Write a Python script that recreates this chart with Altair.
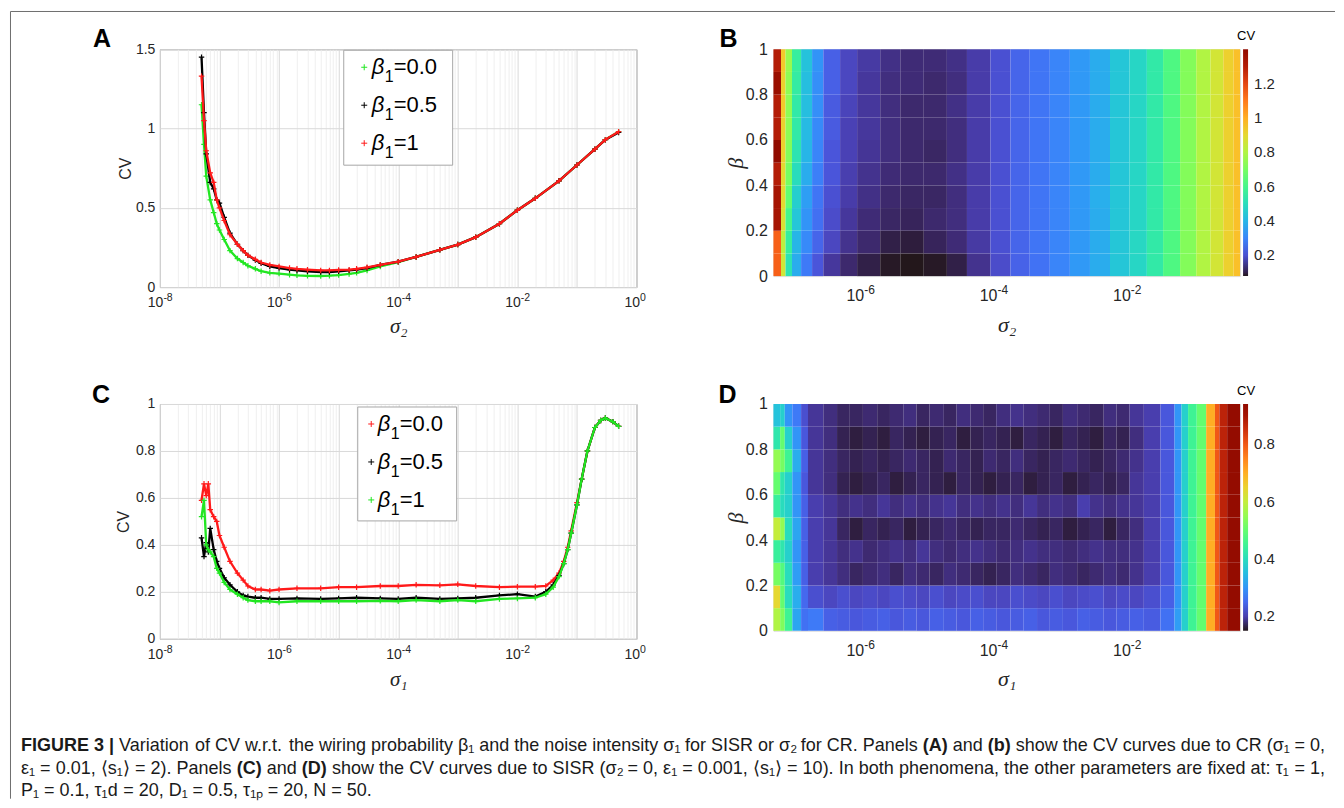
import math
import altair as alt
import pandas as pd

# ---------------- data ----------------
# Panel A (CR): CV vs sigma_2
A_sigma = [5e-8, 5.5e-8, 6e-8, 7e-8, 8e-8, 9e-8, 1e-7, 1.2e-7, 1.5e-7, 2e-7, 2.5e-7, 3e-7, 4e-7, 5e-7, 7e-7,
           1e-6, 1.5e-6, 2e-6, 3e-6, 5e-6, 7e-6, 1e-5, 1.5e-5, 2e-5, 3e-5, 5e-5, 1e-4, 2e-4, 5e-4, 1e-3,
           2e-3, 5e-3, 1e-2, 2e-2, 5e-2, 1e-1, 2e-1, 3e-1, 5e-1]
A_cv_beta00 = [1.15, 0.9, 0.7, 0.55, 0.47, 0.4, 0.36, 0.3, 0.23, 0.18, 0.155, 0.135, 0.115, 0.1, 0.09,
               0.085, 0.078, 0.074, 0.071, 0.07, 0.072, 0.076, 0.083, 0.09, 0.105, 0.13, 0.158, 0.19, 0.235, 0.268,
               0.315, 0.4, 0.485, 0.56, 0.67, 0.77, 0.87, 0.93, 0.98]
A_cv_beta05 = [1.45, 1.1, 0.84, 0.66, 0.62, 0.55, 0.53, 0.44, 0.34, 0.27, 0.23, 0.2, 0.17, 0.15, 0.13,
               0.12, 0.11, 0.105, 0.1, 0.095, 0.095, 0.1, 0.105, 0.11, 0.12, 0.14, 0.16, 0.19, 0.235, 0.268,
               0.315, 0.4, 0.485, 0.56, 0.67, 0.77, 0.87, 0.93, 0.975]
A_cv_beta10 = [1.33, 1.05, 0.86, 0.72, 0.66, 0.55, 0.5, 0.42, 0.33, 0.27, 0.23, 0.2, 0.175, 0.155, 0.14,
               0.13, 0.12, 0.115, 0.11, 0.105, 0.105, 0.108, 0.11, 0.115, 0.125, 0.14, 0.16, 0.19, 0.235, 0.268,
               0.315, 0.4, 0.485, 0.56, 0.67, 0.77, 0.87, 0.93, 0.98]

# Panel C (SISR): CV vs sigma_1
C_sigma = [5e-8, 5.5e-8, 6e-8, 6.5e-8, 7e-8, 8e-8, 9e-8, 1e-7, 1.2e-7, 1.5e-7, 2e-7, 2.5e-7, 3e-7, 4e-7, 5e-7,
           7e-7, 1e-6, 2e-6, 5e-6, 1e-5, 2e-5, 5e-5, 1e-4, 2e-4, 5e-4, 1e-3, 2e-3, 5e-3, 1e-2, 2e-2,
           3e-2, 4e-2, 5e-2, 6e-2, 7e-2, 8e-2, 1e-1, 1.2e-1, 1.5e-1, 2e-1, 2.5e-1, 3e-1, 4e-1, 5e-1]
C_cv_beta00 = [0.59, 0.66, 0.61, 0.66, 0.55, 0.52, 0.5, 0.44, 0.39, 0.33, 0.28, 0.25, 0.225, 0.21, 0.21,
               0.205, 0.21, 0.215, 0.215, 0.22, 0.22, 0.225, 0.225, 0.23, 0.228, 0.232, 0.225, 0.22, 0.222, 0.222,
               0.225, 0.25, 0.28, 0.33, 0.39, 0.46, 0.58, 0.68, 0.8, 0.9, 0.93, 0.94, 0.925, 0.905]
C_cv_beta05 = [0.43, 0.35, 0.41, 0.37, 0.47, 0.38, 0.33, 0.3, 0.26, 0.23, 0.2, 0.185, 0.18, 0.175, 0.175,
               0.17, 0.17, 0.172, 0.17, 0.172, 0.175, 0.172, 0.17, 0.175, 0.17, 0.172, 0.175, 0.185, 0.19, 0.18,
               0.2, 0.23, 0.27, 0.32, 0.38, 0.45, 0.57, 0.68, 0.8, 0.9, 0.93, 0.94, 0.925, 0.905]
C_cv_beta10 = [0.52, 0.59, 0.4, 0.38, 0.37, 0.35, 0.3, 0.28, 0.24, 0.21, 0.19, 0.175, 0.165, 0.16, 0.16,
               0.16, 0.155, 0.16, 0.16, 0.16, 0.16, 0.162, 0.16, 0.165, 0.16, 0.165, 0.16, 0.17, 0.172, 0.175,
               0.19, 0.22, 0.265, 0.32, 0.38, 0.45, 0.57, 0.68, 0.8, 0.9, 0.93, 0.94, 0.925, 0.905]

# Panel B heat map: columns (sigma_2 edges) x rows (beta edges), CV values bottom row first
B_sigma_edges = [5e-8, 6.5e-8, 7.6e-8, 9.5e-8, 1.3e-7, 1.9e-7, 2.8e-7, 5e-7, 9e-7, 2e-6, 4e-6, 9e-6, 2e-5, 4e-5,
                 9e-5, 1.8e-4, 3.5e-4, 7e-4, 1.4e-3, 2.8e-3, 5.6e-3, 1.1e-2, 2e-2, 3.5e-2, 6.3e-2, 1.1e-1, 1.8e-1,
                 2.8e-1, 4e-1, 5e-1]
beta_edges = [0.0, 0.1, 0.2, 0.3, 0.4, 0.5, 0.6, 0.7, 0.8, 0.9, 1.0]
B_cv = [
    [1.15, 0.85, 0.52, 0.38, 0.28, 0.21, 0.15, 0.12, 0.10, 0.085, 0.08, 0.085, 0.10, 0.14, 0.19, 0.235, 0.265, 0.30, 0.34, 0.38, 0.44, 0.48, 0.54, 0.62, 0.72, 0.80, 0.86, 0.92, 0.96],
    [1.15, 0.82, 0.56, 0.40, 0.31, 0.24, 0.18, 0.14, 0.12, 0.10, 0.095, 0.11, 0.125, 0.155, 0.2, 0.24, 0.27, 0.3, 0.34, 0.38, 0.44, 0.485, 0.54, 0.62, 0.72, 0.8, 0.86, 0.92, 0.96],
    [1.33, 0.88, 0.6, 0.44, 0.33, 0.26, 0.19, 0.15, 0.125, 0.115, 0.11, 0.12, 0.13, 0.16, 0.2, 0.24, 0.27, 0.3, 0.34, 0.38, 0.44, 0.48, 0.54, 0.62, 0.72, 0.80, 0.86, 0.92, 0.96],
    [1.33, 0.9, 0.66, 0.46, 0.35, 0.27, 0.2, 0.16, 0.135, 0.12, 0.115, 0.115, 0.13, 0.16, 0.2, 0.24, 0.27, 0.3, 0.34, 0.385, 0.44, 0.48, 0.54, 0.62, 0.72, 0.8, 0.86, 0.92, 0.96],
    [1.3, 0.9, 0.7, 0.5, 0.38, 0.29, 0.21, 0.165, 0.14, 0.125, 0.12, 0.12, 0.135, 0.16, 0.2, 0.24, 0.27, 0.3, 0.34, 0.38, 0.44, 0.48, 0.54, 0.62, 0.72, 0.8, 0.86, 0.92, 0.96],
    [1.4, 0.92, 0.72, 0.52, 0.4, 0.3, 0.21, 0.17, 0.145, 0.13, 0.12, 0.115, 0.13, 0.16, 0.2, 0.24, 0.27, 0.3, 0.34, 0.38, 0.44, 0.48, 0.54, 0.62, 0.72, 0.8, 0.86, 0.92, 0.96],
    [1.3, 0.92, 0.74, 0.54, 0.41, 0.31, 0.22, 0.17, 0.15, 0.13, 0.12, 0.12, 0.13, 0.16, 0.2, 0.24, 0.27, 0.3, 0.34, 0.38, 0.44, 0.48, 0.54, 0.62, 0.72, 0.8, 0.86, 0.92, 0.96],
    [1.3, 0.94, 0.74, 0.54, 0.42, 0.32, 0.22, 0.175, 0.15, 0.13, 0.12, 0.12, 0.135, 0.16, 0.2, 0.24, 0.27, 0.3, 0.34, 0.38, 0.44, 0.48, 0.54, 0.62, 0.72, 0.8, 0.86, 0.92, 0.96],
    [1.36, 0.92, 0.74, 0.55, 0.42, 0.32, 0.23, 0.18, 0.15, 0.13, 0.125, 0.12, 0.13, 0.16, 0.2, 0.24, 0.27, 0.3, 0.34, 0.38, 0.44, 0.48, 0.54, 0.62, 0.72, 0.8, 0.86, 0.92, 0.96],
    [1.3, 0.94, 0.76, 0.56, 0.43, 0.33, 0.23, 0.18, 0.155, 0.135, 0.125, 0.125, 0.135, 0.16, 0.2, 0.24, 0.27, 0.3, 0.34, 0.38, 0.44, 0.48, 0.54, 0.62, 0.72, 0.8, 0.86, 0.92, 0.96],
]

# Panel D heat map (sigma_1 edges)
D_sigma_edges = [5e-8, 6.3e-8, 7.4e-8, 9.6e-8, 1.3e-7, 1.65e-7, 2.8e-7, 4.5e-7, 7e-7, 1.1e-6, 1.8e-6, 2.8e-6,
                 4.5e-6, 7e-6, 1.1e-5, 1.8e-5, 2.8e-5, 4.5e-5, 7e-5, 1.1e-4, 1.8e-4, 2.8e-4, 4.5e-4, 7e-4, 1.1e-3,
                 1.8e-3, 2.8e-3, 4.5e-3, 7e-3, 1.1e-2, 1.8e-2, 3.2e-2, 5.2e-2, 6.6e-2, 8.3e-2, 1.12e-1, 1.55e-1,
                 2.1e-1, 2.45e-1, 3.2e-1, 5e-1]
D_cv = [
    [0.58, 0.53, 0.45, 0.32, 0.26, 0.27, 0.24, 0.235, 0.23, 0.235, 0.24, 0.23, 0.235, 0.23, 0.24, 0.235, 0.23, 0.24, 0.235, 0.23, 0.235, 0.24, 0.23, 0.235, 0.23, 0.24, 0.235, 0.23, 0.235, 0.24, 0.235, 0.26, 0.31, 0.38, 0.45, 0.5, 0.7, 0.8, 0.87, 0.93],
    [0.64, 0.5, 0.4, 0.33, 0.25, 0.22, 0.21, 0.22, 0.21, 0.215, 0.21, 0.22, 0.215, 0.21, 0.22, 0.21, 0.215, 0.22, 0.21, 0.21, 0.22, 0.215, 0.21, 0.22, 0.21, 0.215, 0.22, 0.21, 0.215, 0.21, 0.22, 0.24, 0.3, 0.38, 0.45, 0.5, 0.7, 0.8, 0.87, 0.93],
    [0.52, 0.48, 0.4, 0.31, 0.24, 0.2, 0.19, 0.18, 0.17, 0.175, 0.18, 0.17, 0.18, 0.175, 0.17, 0.18, 0.175, 0.17, 0.165, 0.17, 0.18, 0.175, 0.17, 0.18, 0.175, 0.17, 0.175, 0.18, 0.175, 0.185, 0.2, 0.23, 0.3, 0.38, 0.45, 0.5, 0.7, 0.8, 0.87, 0.93],
    [0.44, 0.42, 0.38, 0.3, 0.24, 0.2, 0.19, 0.18, 0.185, 0.175, 0.18, 0.185, 0.18, 0.19, 0.18, 0.175, 0.18, 0.185, 0.18, 0.175, 0.18, 0.185, 0.18, 0.18, 0.175, 0.18, 0.185, 0.18, 0.18, 0.185, 0.2, 0.23, 0.3, 0.38, 0.45, 0.5, 0.7, 0.8, 0.87, 0.93],
    [0.6, 0.55, 0.4, 0.32, 0.24, 0.2, 0.19, 0.17, 0.16, 0.17, 0.165, 0.17, 0.16, 0.165, 0.17, 0.175, 0.17, 0.165, 0.17, 0.17, 0.175, 0.17, 0.165, 0.17, 0.16, 0.165, 0.17, 0.16, 0.17, 0.18, 0.2, 0.23, 0.3, 0.38, 0.45, 0.5, 0.7, 0.8, 0.87, 0.93],
    [0.44, 0.4, 0.38, 0.3, 0.24, 0.2, 0.19, 0.18, 0.185, 0.18, 0.19, 0.18, 0.185, 0.18, 0.185, 0.19, 0.18, 0.185, 0.18, 0.185, 0.18, 0.19, 0.18, 0.185, 0.18, 0.2, 0.185, 0.18, 0.185, 0.19, 0.2, 0.23, 0.3, 0.38, 0.45, 0.5, 0.7, 0.8, 0.87, 0.93],
    [0.5, 0.42, 0.38, 0.3, 0.23, 0.19, 0.18, 0.165, 0.16, 0.165, 0.17, 0.16, 0.165, 0.17, 0.165, 0.16, 0.17, 0.165, 0.16, 0.165, 0.17, 0.16, 0.165, 0.17, 0.16, 0.165, 0.17, 0.165, 0.17, 0.19, 0.2, 0.23, 0.3, 0.38, 0.45, 0.5, 0.7, 0.8, 0.87, 0.93],
    [0.55, 0.52, 0.45, 0.33, 0.24, 0.19, 0.18, 0.17, 0.165, 0.17, 0.165, 0.17, 0.175, 0.17, 0.165, 0.175, 0.17, 0.165, 0.175, 0.17, 0.18, 0.17, 0.165, 0.17, 0.175, 0.17, 0.165, 0.17, 0.175, 0.185, 0.2, 0.23, 0.3, 0.38, 0.45, 0.5, 0.7, 0.8, 0.87, 0.93],
    [0.42, 0.5, 0.38, 0.3, 0.23, 0.19, 0.18, 0.165, 0.16, 0.165, 0.16, 0.17, 0.165, 0.16, 0.165, 0.17, 0.16, 0.165, 0.17, 0.165, 0.16, 0.17, 0.165, 0.16, 0.17, 0.165, 0.16, 0.17, 0.165, 0.18, 0.2, 0.23, 0.3, 0.38, 0.45, 0.5, 0.7, 0.8, 0.87, 0.93],
    [0.36, 0.38, 0.3, 0.27, 0.22, 0.19, 0.18, 0.17, 0.17, 0.175, 0.17, 0.175, 0.18, 0.17, 0.175, 0.17, 0.18, 0.175, 0.17, 0.18, 0.185, 0.18, 0.175, 0.17, 0.18, 0.175, 0.17, 0.18, 0.175, 0.19, 0.2, 0.23, 0.3, 0.38, 0.45, 0.5, 0.7, 0.8, 0.87, 0.93],
]

# tick values / labels
line_xticks = [1e-8, 1e-6, 1e-4, 1e-2, 1.0]
heat_xticks = [1e-6, 1e-4, 1e-2]
A_yticks = [0, 0.5, 1, 1.5]
C_yticks = [0, 0.2, 0.4, 0.6, 0.8, 1.0]
heat_yticks = [0, 0.2, 0.4, 0.6, 0.8, 1.0]
B_cbar_ticks = [0.2, 0.4, 0.6, 0.8, 1.0, 1.2]
D_cbar_ticks = [0.2, 0.4, 0.6, 0.8]
B_cv_domain = [0.08, 1.40]
D_cv_domain = [0.15, 0.94]

# ---------------- styling ----------------
FONT = "Liberation Sans"
SERIF = "Liberation Serif"
TXT = "#262626"
GREEN, BLACK, RED = "#22e622", "#000000", "#ff1a1a"
PLUS = "M-1,0L1,0M0,-1L0,1"
ONE = pd.DataFrame({"k": [0]})

# panel geometry (plot areas)
WL, HA, HC = 477, 238, 235
WR, HB, HD = 467, 227, 227

IS_DEC = "abs(log(datum.value)/LN10 - round(log(datum.value)/LN10)) < 0.001"
grid_vals = [k * 10.0 ** e for e in range(-8, 0) for k in range(1, 10)] + [1.0]


def txt(text, x, y, size, color=TXT, font=FONT, bold=False, italic=False, align="left",
        baseline="middle"):
    kw = dict(text=text, fontSize=size, font=font, fontWeight="bold" if bold else "normal",
              fontStyle="italic" if italic else "normal", align=align, baseline=baseline, color=color)
    return alt.Chart(ONE).mark_text(**kw).encode(x=alt.value(x), y=alt.value(y))


def pow_labels(ticks, field, xenc_kwargs, ybase, fs_base, fs_exp, dx):
    """'10' plus a raised exponent at every labelled decade, placed through the x scale."""
    df = pd.DataFrame({field: ticks, "base": ["10"] * len(ticks),
                       "exp": [str(int(round(math.log10(t)))) for t in ticks]})
    xenc = alt.X(f"{field}:Q", **xenc_kwargs)
    base = alt.Chart(df).mark_text(align="right", baseline="alphabetic", dx=dx, fontSize=fs_base,
                                   font=FONT, color=TXT).encode(x=xenc, y=alt.value(ybase), text="base:N")
    expo = alt.Chart(df).mark_text(align="left", baseline="alphabetic", dx=dx, fontSize=fs_exp,
                                   font=FONT, color=TXT).encode(
        x=xenc, y=alt.value(ybase - 0.45 * fs_base), text="exp:N")
    return [base, expo]


def legend_entries(x_box, x2_box, y_box, y2_box, xs, ys, entries):
    out = [alt.Chart(ONE).mark_rect(fill="white", stroke="#a6a6a6", strokeWidth=1).encode(
        x=alt.value(x_box), x2=alt.value(x2_box), y=alt.value(y_box), y2=alt.value(y2_box))]
    for (lab, col), yy in zip(entries, ys):
        out.append(alt.Chart(ONE).mark_point(shape=PLUS, size=36, color=col, filled=False,
                                             strokeWidth=1, opacity=1).encode(
            x=alt.value(xs[0]), y=alt.value(yy)))
        out.append(txt("\u03b2", xs[1], yy, 22, color="black", italic=True))
        out.append(txt("1", xs[2], yy + 10, 16, color="black"))
        out.append(txt("=" + lab, xs[3], yy, 22, color="black"))
    return out


def line_panel(sig, series, colors, y_dom, yticks, xtitle, ytitle_x, xtitle_y, height, extras):
    xaxis = alt.Axis(values=grid_vals, labels=False, grid=True,
                     gridColor={"condition": {"test": IS_DEC, "value": "#d9d9d9"}, "value": "#efefef"},
                     gridWidth=1, ticks=False, domain=False,
                     title=xtitle, titleFont=SERIF, titleFontSize=21, titleFontStyle="italic",
                     titleFontWeight="normal", titleColor=TXT, titleY=xtitle_y, titleBaseline="middle")
    yaxis = alt.Axis(values=yticks, format="~g", grid=True, gridColor="#d9d9d9", ticks=False, domain=False,
                     labelFontSize=14, labelFont=FONT, labelColor=TXT, labelPadding=5, labelFlush=False,
                     title="CV", titleFont=FONT, titleFontSize=16, titleFontWeight="normal",
                     titleColor=TXT, titleX=ytitle_x, titleBaseline="middle")
    xkw = dict(scale=alt.Scale(type="log", domain=[1e-8, 1.0], nice=False), axis=xaxis)
    xs = alt.X("sigma:Q", **xkw)
    ys = alt.Y("cv:Q", scale=alt.Scale(domain=y_dom, nice=False, zero=False), axis=yaxis)
    layers = []
    for vals, col in zip(series, colors):
        df = pd.DataFrame({"sigma": sig, "cv": vals})
        layers.append(alt.Chart(df).mark_line(color=col, strokeWidth=2.3).encode(x=xs, y=ys))
        layers.append(alt.Chart(df).mark_point(shape=PLUS, size=30, color=col, filled=False,
                                               strokeWidth=1.2, opacity=1).encode(x=xs, y=ys))
    layers += pow_labels(line_xticks, "sigma", xkw, height + 20, 14, 10.5, 3.5)
    return alt.layer(*layers, *extras).properties(
        width=WL, height=height, view=alt.ViewBackground(stroke="#8a8a8a", strokeWidth=1))


def heat_panel(edges, rows, domain, cticks, xtitle, xtitle_y, height, extras):
    recs = []
    for r, vals in enumerate(rows):
        for j, v in enumerate(vals):
            recs.append({"s0": edges[j], "s1": edges[j + 1], "b0": beta_edges[r],
                         "b1": beta_edges[r + 1], "cv": v})
    df = pd.DataFrame(recs)
    xaxis = alt.Axis(values=heat_xticks, labels=False, grid=False, ticks=False, domain=False,
                     title=xtitle, titleFont=SERIF, titleFontSize=22, titleFontStyle="italic",
                     titleFontWeight="normal", titleColor=TXT, titleY=xtitle_y, titleBaseline="middle")
    yaxis = alt.Axis(values=heat_yticks, format="~g", grid=False, ticks=False, domain=False,
                     labelFontSize=16, labelFont=FONT, labelColor=TXT, labelPadding=6, labelFlush=False,
                     title="\u03b2", titleFont=SERIF, titleFontSize=22, titleFontStyle="italic",
                     titleFontWeight="normal", titleColor=TXT, titleX=-38, titleBaseline="middle")
    cscale = alt.Scale(scheme="turbo", domain=domain, clamp=True)
    xkw = dict(scale=alt.Scale(type="log", domain=[5e-8, 0.5], nice=False), axis=xaxis)
    yenc = alt.Y("b0:Q", scale=alt.Scale(domain=[0, 1], nice=False, zero=False), axis=yaxis)
    rect = alt.Chart(df).mark_rect(strokeWidth=0).encode(
        x=alt.X("s0:Q", **xkw), x2="s1:Q", y=yenc, y2="b1:Q",
        color=alt.Color("cv:Q", scale=cscale, legend=alt.Legend(
            type="gradient", orient="right", offset=3, direction="vertical", gradientLength=height,
            gradientThickness=5, gradientStrokeWidth=0, values=cticks, format=".1~f", labelFontSize=15,
            labelFont=FONT, labelColor=TXT, labelOffset=6, labelOverlap=False, title=None, padding=0)),
    )
    labels = pow_labels(heat_xticks, "s0", xkw, height + 25, 16, 12, 4)
    return alt.layer(rect, *labels, *extras).properties(width=WR, height=height)


# ---------------- caption (justified, word by word) ----------------
W_REG = {" ": 278, "(": 333, ")": 333, ",": 278, ".": 278, ":": 278, "=": 584, "|": 260,
         "A": 667, "B": 667, "C": 722, "D": 722, "E": 667, "F": 611, "G": 778, "I": 278, "N": 722,
         "P": 667, "R": 722, "S": 667, "U": 722, "V": 667,
         "a": 556, "b": 556, "c": 500, "d": 556, "e": 556, "f": 278, "g": 556, "h": 556, "i": 222,
         "l": 222, "m": 833, "n": 556, "o": 556, "p": 556, "r": 333, "s": 500, "t": 278, "u": 556,
         "v": 500, "w": 722, "x": 500, "y": 500, "z": 500,
         "\u03c3": 600, "\u03b2": 575, "\u03b5": 450, "\u03c4": 430, "\u27e8": 390, "\u27e9": 390}
W_BOLD = {" ": 278, "(": 333, ")": 333, "|": 280, "A": 722, "b": 611, "C": 722, "D": 722, "E": 667,
          "F": 611, "G": 778, "I": 278, "R": 722, "U": 722, "3": 556}


def wlen(s, bold):
    tab = W_BOLD if bold else W_REG
    tot = 0
    for ch in s:
        if ch in "0123456789":
            tot += 556
        elif ch in "\u2080\u2081\u2082\u209a":
            tot += 330
        else:
            tot += tab.get(ch, W_REG.get(ch, 556))
    return tot / 1000.0


cap_lines = [
    [("FIGURE 3 |", True), ("Variation of CV w.r.t. the wiring probability \u03b2\u2081 and the noise intensity "
                            "\u03c3\u2081 for SISR or \u03c3\u2082 for CR. Panels", False), ("(A)", True),
     ("and", False), ("(b)", True), ("show the CV curves due to CR (\u03c3\u2081 = 0,", False)],
    [("\u03b5\u2081 = 0.01, \u27e8s\u2081\u27e9 = 2). Panels", False), ("(C)", True), ("and", False),
     ("(D)", True), ("show the CV curves due to SISR (\u03c3\u2082 = 0, \u03b5\u2081 = 0.001, \u27e8s\u2081\u27e9 = 10). "
                     "In both phenomena, the other parameters are fixed at: \u03c4\u2081 = 1,", False)],
    [("P\u2081 = 0.1, \u03c4\u2081d = 20, D\u2081 = 0.5, \u03c4\u2081\u209a = 20, N = 50.", False)],
]
CAP_X0, CAP_X1 = 20 - 159, 1325 - 159       # relative to panel C plot origin
CAP_Y = [750 - 403, 773 - 403, 795 - 403]


def line_words(line):
    words = []
    for seg, bold in line:
        if bold and seg.startswith("FIGURE"):
            words.append((seg, True))
        else:
            for w in seg.split(" "):
                words.append((w, bold))
    return words


cap_words = [line_words(l) for l in cap_lines]
nat = [sum(wlen(w, b) for w, b in ws) + (len(ws) - 1) * 0.278 for ws in cap_words]
CAP_FS = min((CAP_X1 - CAP_X0) / nat[0], (CAP_X1 - CAP_X0) / nat[1])
caption_layers = []
for li, ws in enumerate(cap_words):
    total = sum(wlen(w, b) for w, b in ws) * CAP_FS
    if li < 2:
        gap = ((CAP_X1 - CAP_X0) - total) / (len(ws) - 1)
    else:
        gap = 0.278 * CAP_FS
    x = CAP_X0
    for w, b in ws:
        caption_layers.append(txt(w, round(x, 2), CAP_Y[li], CAP_FS, color="#1a1a1a", bold=b,
                                  baseline="alphabetic"))
        x += wlen(w, b) * CAP_FS + gap

# ---------------- panels ----------------
frame = [
    alt.Chart(ONE).mark_rule(color="#6e6e6e", strokeWidth=1).encode(
        x=alt.value(-149.5), x2=alt.value(1176), y=alt.value(-37.8)),
    alt.Chart(ONE).mark_rule(color="#6e6e6e", strokeWidth=1).encode(
        x=alt.value(-149.5), y=alt.value(-37.8), y2=alt.value(750)),
]

A_extras = frame + [txt("A", -58, -10, 25, color="black", bold=True, align="center")] + legend_entries(
    184, 293, 1, 116, [204.5, 212, 225, 234], [18, 56, 94],
    [("0.0", GREEN), ("0.5", BLACK), ("1", RED)])
panelA = line_panel(A_sigma, [A_cv_beta00, A_cv_beta05, A_cv_beta10], [GREEN, BLACK, RED],
                    [0, 1.5], A_yticks, "\u03c3\u2082", -34, 39, HA, A_extras)

B_extras = [txt("B", -45, -10, 25, color="black", bold=True, align="center"),
            txt("CV", 473, -13.5, 13, color="black", align="center")]
panelB = heat_panel(B_sigma_edges, B_cv, B_cv_domain, B_cbar_ticks, "\u03c3\u2082", 48, HB, B_extras)

C_extras = [txt("C", -59, -9, 25, color="black", bold=True, align="center")] + legend_entries(
    198, 297, 3, 117, [211.5, 218, 231, 240], [20, 58, 96],
    [("0.0", RED), ("0.5", BLACK), ("1", GREEN)]) + caption_layers
panelC = line_panel(C_sigma, [C_cv_beta00, C_cv_beta05, C_cv_beta10], [RED, BLACK, GREEN],
                    [0, 1.0], C_yticks, "\u03c3\u2081", -36, 41, HC, C_extras)

D_extras = [txt("D", -46, -9, 25, color="black", bold=True, align="center"),
            txt("CV", 473, -13.5, 13, color="black", align="center")]
panelD = heat_panel(D_sigma_edges, D_cv, D_cv_domain, D_cbar_ticks, "\u03c3\u2081", 48, HD, D_extras)

chart = alt.concat(panelA, panelB, panelC, panelD, columns=2,
                   spacing={"row": 117, "column": 137}, bounds="flush").resolve_scale(
    color="independent", x="independent", y="independent"
).resolve_legend(color="independent").properties(
    padding={"left": 1, "top": 2, "right": 0, "bottom": 0}
).configure_view(stroke=None).configure(background="white", font=FONT)

chart.save("out.html", embed_options={"renderer": "svg", "actions": False})
